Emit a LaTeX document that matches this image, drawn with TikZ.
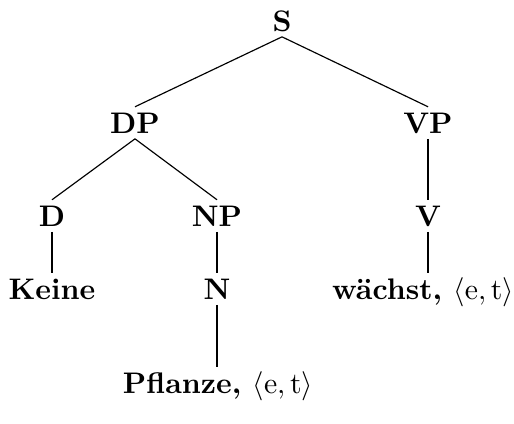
\documentclass[tikz,border=0pt]{standalone}
\usepackage{fontspec}
\begin{document}
\begin{tikzpicture}[x=0.343pt,y=-0.343pt,
  tn/.style={anchor=base,font=\fontsize{10.2pt}{12.2pt}\selectfont\bfseries,inner xsep=1.5pt,inner ysep=1.8pt,text height=7pt,text depth=0pt},
  edge/.style={draw=black,line width=0.4pt}]
\useasboundingbox (0,0) rectangle (514,423);
\node[tn] (S) at (282,31) {S};
\node[tn] (DP) at (135,133) {DP};
\node[tn] (VP) at (428,133) {VP};
\node[tn] (D) at (52,226) {D};
\node[tn] (NP) at (217,226) {NP};
\node[tn] (V) at (428,226) {V};
\node[tn] (Keine) at (52,299) {Keine};
\node[tn] (N) at (217,299) {N};
\node[tn] (w) at (423,299) {wächst, \mdseries$\langle\mathrm{e},\mathrm{t}\rangle$};
\node[tn] (Pf) at (218,393) {Pflanze, \mdseries$\langle\mathrm{e},\mathrm{t}\rangle$};
\draw[edge] (S.south) -- (DP.north);
\draw[edge] (S.south) -- (VP.north);
\draw[edge] (DP.south) -- (D.north);
\draw[edge] (DP.south) -- (NP.north);
\draw[edge] (VP.south) -- (V.north);
\draw[edge] (D.south) -- (Keine.north);
\draw[edge] (NP.south) -- (N.north);
\draw[edge] (V.south) -- (V.south |- w.north);
\draw[edge] (N.south) -- (N.south |- Pf.north);
\end{tikzpicture}
\end{document}
